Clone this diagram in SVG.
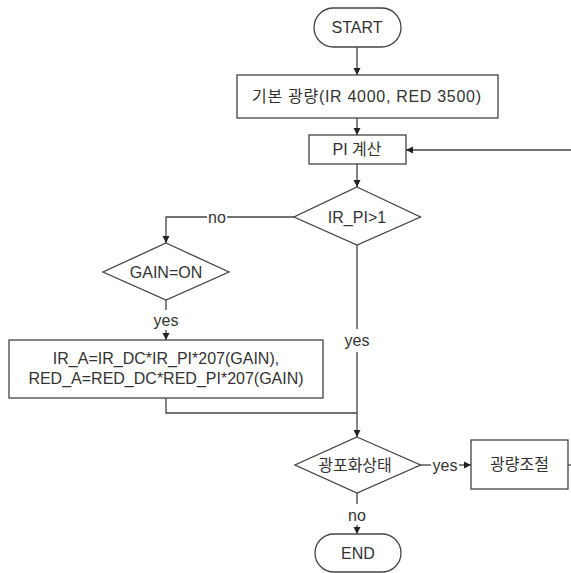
<svg xmlns="http://www.w3.org/2000/svg" width="571" height="573" viewBox="0 0 571 573">
<defs>
<style>
.n{fill:#fff;stroke:#444;stroke-width:1.3}
.c{fill:none;stroke:#444;stroke-width:1.3}
text{font-family:"Liberation Sans","Noto Sans CJK KR",sans-serif;font-size:16px;fill:#333;text-anchor:middle;dominant-baseline:central}
</style>
<marker id="ah" markerWidth="8" markerHeight="8" refX="7" refY="4" orient="auto" markerUnits="userSpaceOnUse">
<path d="M0,0.5 L7,4 L0,7.5 Z" fill="#222"/>
</marker>
</defs>
<rect width="571" height="573" fill="#fff"/>
<g id="connectors">
<path class="c" d="M357,47 V75" marker-end="url(#ah)"/>
<path class="c" d="M357,118 V135" marker-end="url(#ah)"/>
<path class="c" d="M571,150 H406" marker-end="url(#ah)"/>
<path class="c" d="M357,164 V187" marker-end="url(#ah)"/>
<path class="c" d="M294,217 H227"/>
<path class="c" d="M207,217 H166 V243" marker-end="url(#ah)"/>
<text x="217" y="217">no</text>
<path class="c" d="M166,300 V310"/>
<text x="166" y="320">yes</text>
<path class="c" d="M166,330 V340" marker-end="url(#ah)"/>
<path class="c" d="M357,245 V329"/>
<text x="357" y="340">yes</text>
<path class="c" d="M357,352 V437" marker-end="url(#ah)"/>
<path class="c" d="M166,398 V413 H357"/>
<path class="c" d="M420.5,465 H431"/>
<text x="445" y="465">yes</text>
<path class="c" d="M459,465 H471" marker-end="url(#ah)"/>
<path class="c" d="M568,465 H571"/>
<path class="c" d="M357,493 V504"/>
<text x="357" y="515">no</text>
<path class="c" d="M357,525 V534" marker-end="url(#ah)"/>
</g>
<g id="start">
<rect class="n" x="314" y="8" width="87" height="39" rx="19.5"/>
<text x="357" y="27.5">START</text>
</g>
<g id="base">
<rect class="n" x="237" y="75" width="261" height="43"/>
<text x="366.5" y="96.5" textLength="229" lengthAdjust="spacing">기본 광량(IR 4000, RED 3500)</text>
</g>
<g id="pi">
<rect class="n" x="309" y="135" width="97" height="29"/>
<text x="357" y="149.5">PI 계산</text>
</g>
<g id="irpi">
<path class="n" d="M357,187 L420.5,217 L357,245 L294,217 Z"/>
<text x="357" y="217">IR_PI&gt;1</text>
</g>
<g id="gain">
<path class="n" d="M166,243 L229,272 L166,300 L103,272 Z"/>
<text x="166" y="272">GAIN=ON</text>
</g>
<g id="calc">
<rect class="n" x="9" y="340" width="314" height="58"/>
<text x="166" y="358">IR_A=IR_DC*IR_PI*207(GAIN),</text>
<text x="166" y="378">RED_A=RED_DC*RED_PI*207(GAIN)</text>
</g>
<g id="sat">
<path class="n" d="M357,437 L420.5,465 L357,493 L295,465 Z"/>
<text x="355" y="465">광포화상태</text>
</g>
<g id="adjust">
<rect class="n" x="471" y="440" width="97" height="49"/>
<text x="519.5" y="464.5">광량조절</text>
</g>
<g id="end">
<rect class="n" x="315" y="534" width="86" height="38" rx="19"/>
<text x="358" y="553">END</text>
</g>
</svg>
